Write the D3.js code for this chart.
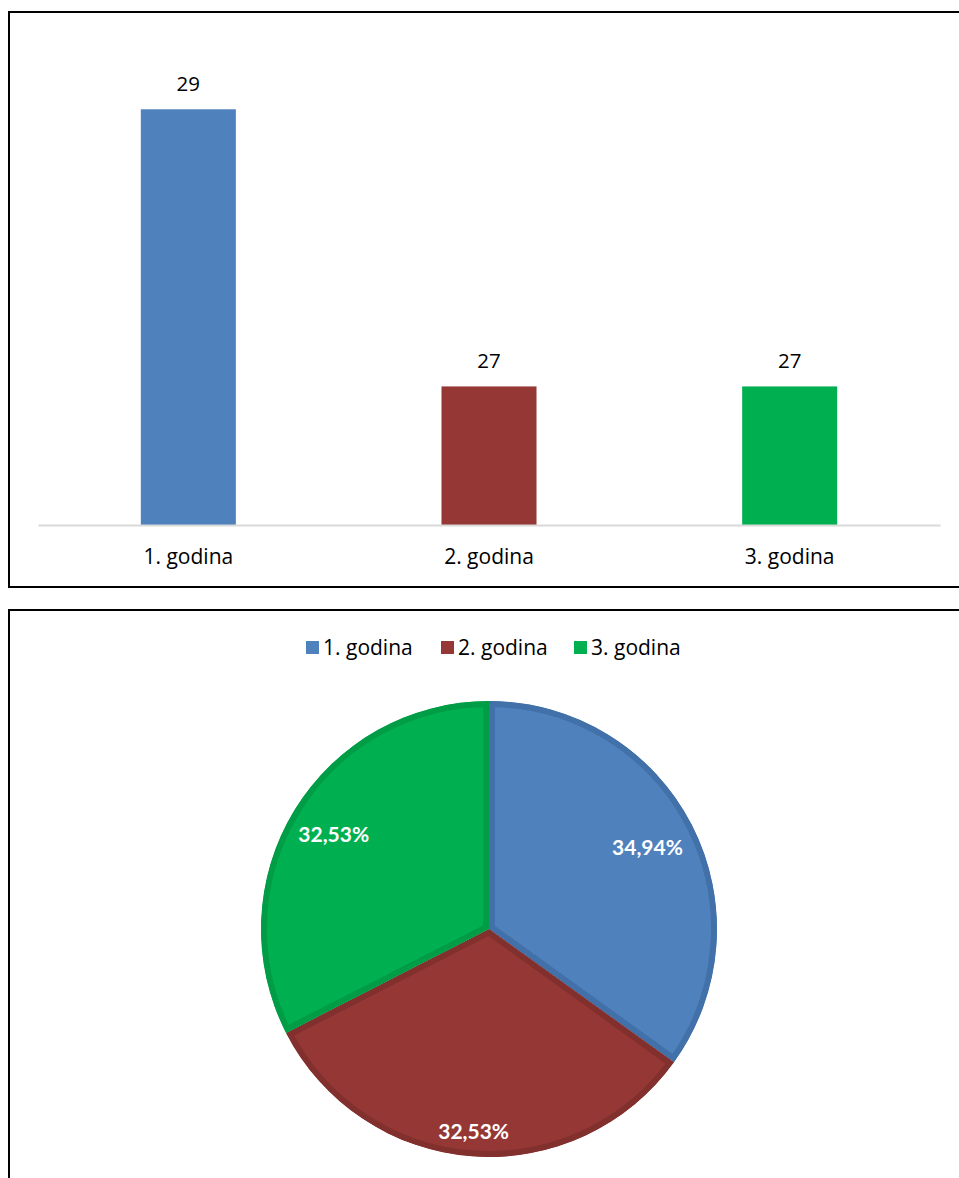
<!DOCTYPE html>
<html>
<head>
<meta charset="utf-8">
<script src="https://cdn.jsdelivr.net/npm/d3@7"></script>
<style>
  html, body { margin: 0; padding: 0; background: #fff; }
  svg { display: block; }
</style>
</head>
<body>
<svg id="chart" width="959" height="1178"></svg>
<script>
// ---- data ----
const categories = ["1. godina", "2. godina", "3. godina"];
const values = [29, 27, 27];
const colors = ["#4F81BD", "#953735", "#00B050"];
const bandColors = ["#4270A8", "#82302D", "#009C46"];
const yDomain = [26, 29.5];

const svg = d3.select("#chart");
const FONT = "'Open Sans', Lato, sans-serif";
const BFONT = "Lato, 'Open Sans', sans-serif";

// ---- frames ----
svg.append("rect").attr("x", 9).attr("y", 12).attr("width", 960).attr("height", 575)
  .attr("fill", "none").attr("stroke", "#000").attr("stroke-width", 2);
svg.append("rect").attr("x", 9).attr("y", 610).attr("width", 960).attr("height", 600)
  .attr("fill", "none").attr("stroke", "#000").attr("stroke-width", 2);

// ---- bar chart ----
const x = d3.scaleBand().domain(categories).range([38, 940])
  .paddingInner(0.684).paddingOuter(0.342);
const y = d3.scaleLinear().domain(yDomain).range([525, 40]);

const bars = svg.append("g");
bars.selectAll("rect").data(values).join("rect")
  .attr("x", (d, i) => x(categories[i]))
  .attr("y", d => y(d))
  .attr("width", x.bandwidth())
  .attr("height", d => y(yDomain[0]) - y(d))
  .attr("fill", (d, i) => colors[i]);

bars.selectAll("text.val").data(values).join("text")
  .attr("class", "val")
  .attr("x", (d, i) => x(categories[i]) + x.bandwidth() / 2)
  .attr("y", d => y(d) - 18)
  .attr("text-anchor", "middle")
  .attr("font-family", FONT).attr("font-size", 20.5).attr("fill", "#000")
  .text(d => d);

const xAxis = svg.append("g").attr("transform", `translate(0,${y(yDomain[0])})`)
  .call(d3.axisBottom(x).tickSize(0).tickPadding(24));
xAxis.select(".domain").attr("stroke", "#D9D9D9").attr("stroke-width", 2);
xAxis.selectAll("text").attr("font-family", FONT).attr("font-size", 21).attr("fill", "#000");

// ---- legend ----
const legendX = [306, 441, 574];
const legend = svg.append("g");
categories.forEach((c, i) => {
  const g = legend.append("g").attr("transform", `translate(${legendX[i]},641)`);
  g.append("rect").attr("width", 13).attr("height", 13).attr("fill", colors[i]);
  g.append("text").attr("x", 17).attr("y", 14)
    .attr("font-family", FONT).attr("font-size", 21).attr("fill", "#000").text(c);
});

// ---- pie ----
const cx = 489, cy = 929, R = 228;
const total = d3.sum(values);
const pie = d3.pie().sort(null).value(d => d);
const arcs = pie(values);
const arc = d3.arc().innerRadius(0).outerRadius(R);
const pg = svg.append("g").attr("transform", `translate(${cx},${cy})`);
const defs = svg.append("defs");
arcs.forEach((a, i) => {
  defs.append("clipPath").attr("id", "clip" + i).append("path").attr("d", arc(a));
});
pg.selectAll("path.slice").data(arcs).join("path")
  .attr("class", "slice")
  .attr("d", arc)
  .attr("fill", (d, i) => colors[i])
  .attr("stroke", (d, i) => bandColors[i])
  .attr("stroke-width", 12)
  .attr("stroke-linejoin", "miter")
  .attr("clip-path", (d, i) => `url(#clip${i})`);

const labelR = [178, 203, 182];
const fmt = d => d3.format(".2%")(d).replace(".", ",");
pg.selectAll("text.pct").data(arcs).join("text")
  .attr("class", "pct")
  .attr("x", (d, i) => Math.sin((d.startAngle + d.endAngle) / 2) * labelR[i])
  .attr("y", (d, i) => -Math.cos((d.startAngle + d.endAngle) / 2) * labelR[i])
  .attr("dy", "0.36em")
  .attr("text-anchor", "middle")
  .attr("font-family", BFONT).attr("font-weight", "bold").attr("font-size", 21)
  .attr("fill", "#fff")
  .text(d => fmt(d.value / total));
</script>
</body>
</html>
